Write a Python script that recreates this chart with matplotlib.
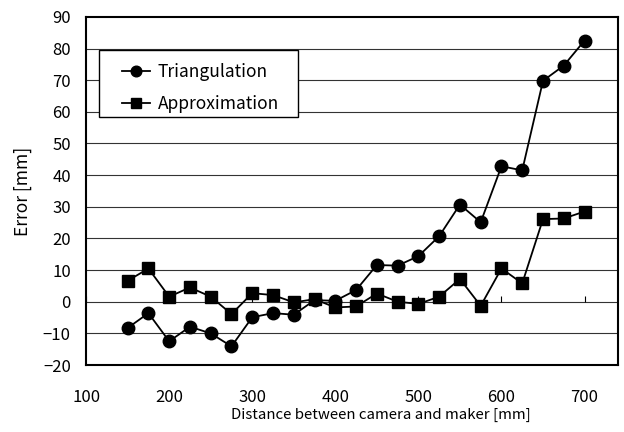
import matplotlib.pyplot as plt
from matplotlib.patches import Rectangle

plt.rcParams['font.family'] = ['Noto Sans CJK JP', 'DejaVu Sans']

distance = [150, 175, 200, 225, 250, 275, 300, 325, 350, 375, 400, 425,
            450, 475, 500, 525, 550, 575, 600, 625, 650, 675, 700]
triangulation = [-8.3, -3.6, -12.5, -7.9, -10.0, -14.1, -4.9, -3.6, -4.1, 0.5, 0.3, 3.7,
                 11.6, 11.4, 14.4, 20.7, 30.7, 25.1, 42.8, 41.5, 69.8, 74.6, 82.5]
approximation = [6.6, 10.5, 1.6, 4.5, 1.6, -3.9, 2.7, 2.1, -0.2, 0.8, -1.8, -1.5,
                 2.6, 0.0, -0.7, 1.6, 7.2, -1.3, 10.5, 5.8, 26.1, 26.3, 28.5]
xt = [100, 200, 300, 400, 500, 600, 700]
yt = list(range(-20, 100, 10))

fig = plt.figure(figsize=(6.24, 4.32), dpi=100)
ax = fig.add_axes([0.138, 0.155, 0.852, 0.806])

# horizontal grid
for v in yt[1:-1]:
    ax.axhline(v, color='#333333', lw=0.8, zorder=1)

# small ticks on the zero line
ax.vlines(xt, 0, 1.8, color='black', lw=0.8, zorder=1)

ax.plot(distance, triangulation, '-o', color='black', lw=1.3, ms=9,
        label='Triangulation', zorder=3)
ax.plot(distance, approximation, '-s', color='black', lw=1.3, ms=8.5,
        label='Approximation', zorder=3)

ax.set_xlim(100, 740)
ax.set_ylim(-20, 90)
ax.set_xticks(xt)
ax.set_yticks(yt)
ax.set_yticklabels([str(v).replace('-', '\u2212') for v in yt])
ax.tick_params(length=0, labelsize=12)
ax.tick_params(axis='x', pad=17)
ax.tick_params(axis='y', pad=11)
for s in ax.spines.values():
    s.set_linewidth(1.5)

ax.set_xlabel('Distance between camera and maker [mm]', fontsize=10.8)
ax.xaxis.set_label_coords(0.5545, -0.124)
ax.set_ylabel('Error [mm]', fontsize=12.5)
ax.yaxis.set_label_coords(-0.1015, 0.5)

# legend box
ax.add_patch(Rectangle((0.0244, 0.7126), 0.3741, 0.1924, transform=ax.transAxes,
                       facecolor='white', edgecolor='black', lw=1.0, zorder=4))
leg = ax.legend(loc='upper left', bbox_to_anchor=(0.0677, 0.868), fontsize=12.5,
                frameon=False, borderpad=0, borderaxespad=0, handlelength=1.6,
                handletextpad=0.45, labelspacing=0.83, markerscale=0.85)
leg.set_zorder(5)

fig.savefig('out.png', dpi=100, facecolor='white')
